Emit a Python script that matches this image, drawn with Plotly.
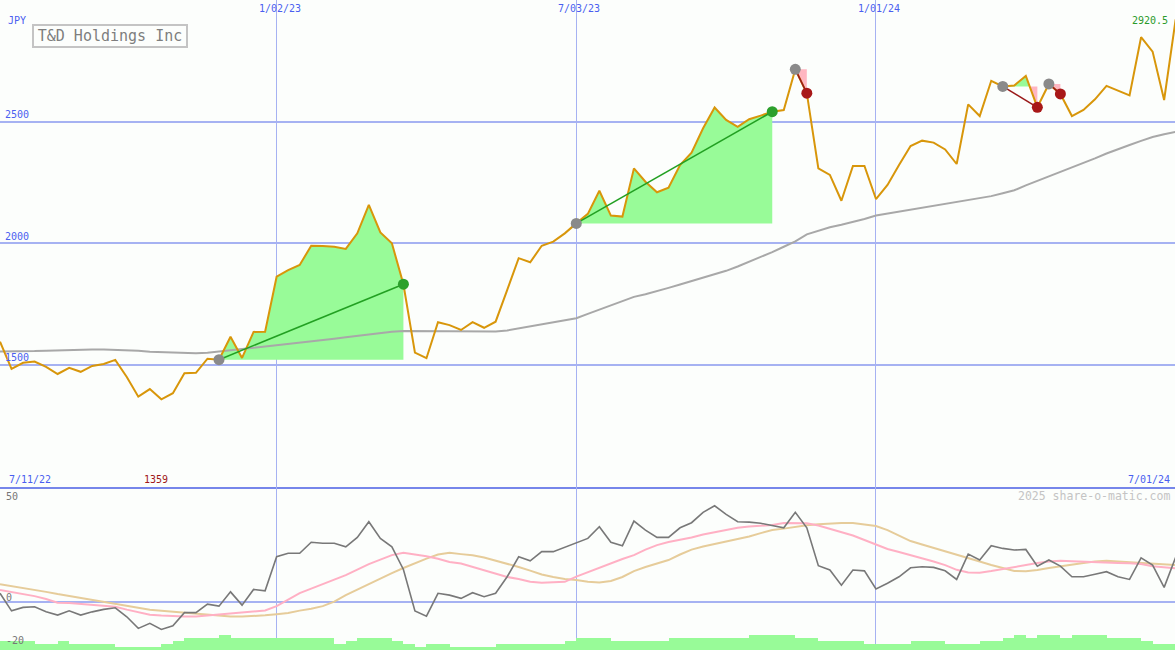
import pandas as pd
import plotly.graph_objects as go

# ------------------------------------------------------------------ data
start_date = "2022-07-18"

close = [1596, 1484, 1509, 1514, 1492, 1463, 1488, 1472, 1496, 1504,
         1521, 1451, 1370, 1401, 1359, 1384, 1466, 1468, 1526, 1522,
         1616, 1529, 1636, 1637, 1863, 1890, 1911, 1990, 1989, 1986,
         1977, 2041, 2158, 2045, 2000, 1832, 1551, 1528, 1676, 1664,
         1644, 1676, 1653, 1678, 1808, 1939, 1922, 1990, 2007, 2041,
         2082, 2121, 2216, 2114, 2110, 2308, 2253, 2210, 2229, 2322,
         2373, 2473, 2558, 2507, 2479, 2510, 2525, 2541, 2548, 2715,
         2617, 2308, 2281, 2175, 2318, 2318, 2182, 2240, 2322, 2400,
         2422, 2414, 2386, 2326, 2571, 2523, 2668, 2645, 2649, 2688,
         2559, 2655, 2614, 2523, 2548, 2592, 2647, 2626, 2608, 2847,
         2788, 2589, 2920.5]

moving_avg = [1555, 1555, 1556, 1557, 1559, 1561, 1562, 1564, 1564, 1564,
              1563, 1562, 1559, 1554, 1552, 1550, 1548, 1548, 1550, 1555,
              1560, 1565, 1570, 1575, 1581, 1587, 1592, 1597, 1602, 1608,
              1614, 1620, 1626, 1632, 1637, 1640, 1640, 1640, 1639, 1638,
              1637, 1637, 1637, 1638, 1642, 1650, 1658, 1666, 1675, 1684,
              1692, 1710, 1728, 1746, 1765, 1780, 1791, 1803, 1817, 1831,
              1845, 1860, 1874, 1887, 1905, 1924, 1943, 1964, 1986, 2008,
              2037, 2053, 2066, 2076, 2087, 2100, 2114, 2122, 2130, 2138,
              2146, 2154, 2162, 2170, 2177, 2184, 2194, 2206, 2218, 2238,
              2256, 2274, 2292, 2311, 2330, 2349, 2369, 2388, 2404, 2421,
              2437, 2448, 2458]

osc_main = [4.3, -4.3, -2.6, -2.3, -4.8, -6.4, -4.3, -6.4, -4.8, -3.6,
            -2.8, -7.2, -12.9, -10.4, -13.4, -11.6, -5.2, -5.2, -1.0, -2.0,
            5.0, -1.5, 6.2, 5.5, 22.2, 23.9, 23.9, 29.3, 28.8, 28.8,
            27.1, 31.7, 39.4, 31.2, 27.1, 16.0, -4.4, -6.9, 4.3, 3.4,
            1.8, 4.6, 2.6, 4.3, 12.4, 22.2, 20.2, 24.7, 24.7, 26.8,
            29.1, 31.2, 36.9, 29.3, 27.6, 39.7, 35.3, 31.7, 31.7, 36.4,
            38.9, 44.0, 47.2, 43.0, 39.4, 39.2, 38.6, 37.4, 36.4, 44.0,
            36.4, 17.8, 15.7, 8.3, 15.7, 15.3, 6.4, 9.2, 12.4, 16.8,
            17.3, 17.0, 15.3, 11.1, 23.5, 20.6, 27.6, 26.3, 25.5, 25.8,
            17.6, 20.6, 17.6, 12.4, 12.4, 13.6, 14.9, 12.4, 11.1, 21.7,
            18.1, 7.2, 21.9]

osc_fast = [5.9, 4.9, 3.9, 2.9, 1.5, -0.3, -0.5, -0.9, -1.3, -1.8,
            -2.3, -3.7, -4.9, -6.2, -6.6, -7.0, -7.1, -7.1, -6.6, -6.1,
            -5.9, -5.4, -4.7, -4.1, -2.0, 1.0, 4.4, 6.6, 8.8, 11.0,
            13.2, 15.9, 18.6, 20.8, 23.0, 24.2, 23.5, 22.5, 21.2, 19.6,
            18.9, 17.2, 15.4, 13.7, 12.3, 11.3, 10.0, 9.5, 9.6, 9.9,
            12.5, 14.7, 16.9, 18.9, 21.1, 23.0, 25.7, 27.9, 29.4, 30.5,
            31.6, 33.1, 34.3, 35.4, 36.4, 37.0, 37.5, 37.8, 38.7, 38.8,
            38.6, 37.5, 35.8, 34.3, 32.6, 30.4, 28.2, 26.0, 24.5, 23.0,
            21.6, 19.9, 18.1, 15.8, 14.5, 14.4, 15.2, 16.2, 17.4, 18.1,
            19.1, 19.9, 20.3, 20.0, 19.7, 19.5, 19.3, 19.1, 19.0, 18.6,
            17.6, 16.9, 16.5]

osc_slow = [8.7, 7.8, 7.0, 6.1, 5.0, 3.9, 2.9, 2.1, 1.0, 0.0,
            -1.0, -2.0, -2.9, -3.8, -4.3, -4.8, -5.3, -5.8, -6.4, -6.9,
            -7.1, -7.1, -6.9, -6.5, -6.0, -5.4, -4.2, -3.3, -2.0, 0.2,
            3.4, 6.1, 8.8, 11.8, 14.2, 16.7, 19.1, 21.3, 23.3, 24.2,
            23.5, 22.9, 21.8, 20.3, 18.6, 17.2, 15.4, 13.5, 12.3, 11.3,
            10.8, 10.0, 9.6, 10.3, 12.3, 15.2, 17.2, 18.9, 20.6, 23.3,
            25.7, 27.2, 28.4, 29.7, 30.9, 32.1, 33.8, 35.3, 36.0, 37.0,
            37.7, 38.1, 38.5, 38.7, 38.8, 38.2, 37.3, 35.3, 32.6, 29.9,
            28.2, 26.6, 25.0, 23.3, 21.6, 19.9, 18.2, 16.7, 15.2, 15.1,
            15.7, 16.7, 17.6, 18.6, 19.2, 19.9, 20.2, 19.9, 19.5, 19.3,
            18.9, 18.5, 18.1]

volume = [3, 3, 3, 2, 2, 3, 2, 2, 2, 2,
          1, 1, 1, 1, 2, 3, 4, 4, 4, 5,
          4, 4, 4, 4, 4, 4, 4, 4, 4, 2,
          3, 4, 4, 4, 3, 2, 1, 2, 2, 1,
          1, 1, 1, 2, 2, 2, 2, 2, 2, 3,
          4, 4, 4, 3, 3, 3, 3, 3, 4, 4,
          4, 4, 4, 4, 4, 5, 5, 5, 5, 4,
          4, 3, 3, 3, 3, 2, 2, 2, 2, 3,
          3, 3, 2, 2, 2, 3, 3, 4, 5, 4,
          5, 5, 4, 5, 5, 5, 4, 4, 4, 3,
          2, 2, 2]

signal_starts = [19, 50, 69, 87, 91]
signal_ends = [35, 67, 70, 90, 92]

x_tick_dates = ["2023-01-02", "2023-07-03", "2024-01-01"]
x_tick_text = ["1/02/23", "7/03/23", "1/01/24"]
price_ticks = [1500, 2000, 2500]
osc_ticks = [50, 0, -20]
osc_label_shift = [4, 5, 2]
first_label = "7/11/22"
last_label = "7/01/24"

# ------------------------------------------------------------------ style
MONO = "DejaVu Sans Mono"
BG = "#fcfefc"
GRID = "#a6b2f2"
SEP = "#7686ea"
BLUE_TXT = "#4a5ef0"
PRICE_C = "#d8960a"
MA_C = "#a8a8a8"
GREEN_FILL = "#98fb98"
PINK_FILL = "#ffb6c1"

W, H = 1175, 650
LOWER_FRAC = 163 / 650

dates = pd.date_range(start_date, periods=len(close), freq="7D")
x_end = dates[0] + pd.Timedelta(days=713.6)

fig = go.Figure()

# volume histogram (lower panel)
fig.add_trace(go.Bar(x=dates, y=volume, yaxis="y3", width=7 * 86400000, offset=0,
                     marker=dict(color=GREEN_FILL, line=dict(width=0)),
                     hoverinfo="skip"))

# oscillator lines (lower panel)
fig.add_trace(go.Scatter(x=dates, y=osc_slow, yaxis="y2", mode="lines",
                         line=dict(color="#e6cc9a", width=2)))
fig.add_trace(go.Scatter(x=dates, y=osc_fast, yaxis="y2", mode="lines",
                         line=dict(color="#ffb0c4", width=2)))
fig.add_trace(go.Scatter(x=dates, y=osc_main, yaxis="y2", mode="lines",
                         line=dict(color="#787878", width=1.6)))

# signal fill areas (main panel)
for s, e in zip(signal_starts, signal_ends):
    base = close[s]
    ts, ps = [dates[s]], [close[s]]
    for k in range(s, e):
        p0, p1 = close[k], close[k + 1]
        if (p0 - base) * (p1 - base) < 0:
            f = (base - p0) / (p1 - p0)
            ts.append(dates[k] + (dates[k + 1] - dates[k]) * f)
            ps.append(base)
        ts.append(dates[k + 1])
        ps.append(p1)
    up = [max(p, base) for p in ps]
    dn = [min(p, base) for p in ps]
    px = ts + ts[::-1]
    if any(p > base for p in ps):
        fig.add_trace(go.Scatter(x=px, y=up + [base] * len(ts), mode="lines",
                                 fill="toself", fillcolor=GREEN_FILL,
                                 line=dict(width=0), hoverinfo="skip"))
    if any(p < base for p in ps):
        fig.add_trace(go.Scatter(x=px, y=dn + [base] * len(ts), mode="lines",
                                 fill="toself", fillcolor=PINK_FILL,
                                 line=dict(width=0), hoverinfo="skip"))

# moving average and price
fig.add_trace(go.Scatter(x=dates, y=moving_avg, mode="lines",
                         line=dict(color=MA_C, width=2)))
fig.add_trace(go.Scatter(x=dates, y=close, mode="lines",
                         line=dict(color=PRICE_C, width=2)))

# trend lines and markers
for s, e in zip(signal_starts, signal_ends):
    rising = close[e] > close[s]
    fig.add_trace(go.Scatter(x=[dates[s], dates[e]], y=[close[s], close[e]],
                             mode="lines",
                             line=dict(color="#22a022" if rising else "#9a1a1a",
                                       width=1.6)))
for s, e in zip(signal_starts, signal_ends):
    rising = close[e] > close[s]
    fig.add_trace(go.Scatter(x=[dates[s]], y=[close[s]], mode="markers",
                             marker=dict(color="#8a8a8a", size=11)))
    fig.add_trace(go.Scatter(x=[dates[e]], y=[close[e]], mode="markers",
                             marker=dict(color="#2ca02c" if rising else "#a81818",
                                         size=11)))


def px_x(v):
    return v / W


def px_y(v):
    return 1 - v / H


anns = []
anns.append(dict(x=px_x(6), y=px_y(20), text="JPY", xanchor="left", yanchor="middle",
                 font=dict(color=BLUE_TXT)))
for d, t in zip(x_tick_dates, x_tick_text):
    anns.append(dict(x=d, xref="x", y=px_y(9), text=t, xanchor="center",
                     yanchor="middle", xshift=3, font=dict(color=BLUE_TXT)))
anns.append(dict(x=px_x(1170), y=px_y(21), text=f"{close[-1]:.1f}", xanchor="right",
                 yanchor="middle", font=dict(color="#2a9a2a")))
anns.append(dict(x=px_x(7), y=px_y(479), text=first_label, xanchor="left",
                 yanchor="middle", font=dict(color=BLUE_TXT)))
low_i = close.index(min(close))
anns.append(dict(x=dates[low_i], xref="x", y=px_y(479), text=f"{min(close):.0f}",
                 xanchor="center", yanchor="middle", xshift=-5,
                 font=dict(color="#a01818")))
anns.append(dict(x=px_x(1172), y=px_y(479), text=last_label, xanchor="right",
                 yanchor="middle", font=dict(color=BLUE_TXT)))
anns.append(dict(x=px_x(1172), y=px_y(496), text="2025 share-o-matic.com",
                 xanchor="right", yanchor="middle",
                 font=dict(color="#c4c4c4", size=11.5)))
anns.append(dict(x=px_x(32), y=px_y(24), text="T&D Holdings Inc", xanchor="left",
                 yanchor="top", width=150, height=18, borderpad=1, borderwidth=2,
                 bordercolor="#c4c4c4", bgcolor=BG,
                 font=dict(color="#7e7e7e", size=15)))
for a in anns:
    a.setdefault("xref", "paper")
    a["yref"] = "paper"
for v, sh in zip(osc_ticks, osc_label_shift):
    anns.append(dict(x=px_x(4), xref="paper", y=v, yref="y2", text=str(v),
                     xanchor="left", yanchor="middle", yshift=sh,
                     font=dict(color="#777777")))
for a in anns:
    a["showarrow"] = False
    f = a.setdefault("font", {})
    f.setdefault("family", MONO)
    f.setdefault("size", 10)

fig.update_layout(
    width=W, height=H,
    margin=dict(l=0, r=0, t=0, b=0),
    paper_bgcolor=BG, plot_bgcolor=BG,
    showlegend=False,
    hovermode=False,
    bargap=0,
    xaxis=dict(type="date", range=[dates[0], x_end], anchor="y",
               tickvals=x_tick_dates, showticklabels=False, ticks="",
               showgrid=True, gridcolor=GRID, gridwidth=1,
               showline=True, linecolor=SEP, linewidth=2, zeroline=False),
    yaxis=dict(domain=[LOWER_FRAC, 1], range=[998.6, 3000], anchor="x",
               tickvals=price_ticks, ticks="", ticklabelposition="inside top",
               ticklabelstandoff=2,
               tickfont=dict(family=MONO, size=10, color=BLUE_TXT),
               showgrid=True, gridcolor=GRID, gridwidth=2, zeroline=False),
    yaxis2=dict(domain=[0, LOWER_FRAC], range=[-23.5, 56.4], anchor="x",
                showticklabels=False, ticks="",
                showgrid=False, zeroline=True, zerolinecolor=GRID, zerolinewidth=2),
    yaxis3=dict(overlaying="y2", range=[0, 163 / 3], visible=False, anchor="x"),
    annotations=anns,
)

fig.write_html(
    "out.html",
    config={"displayModeBar": False},
    post_script="document.body.style.margin='0';document.body.style.padding='0';"
                "document.body.style.overflow='hidden';",
)
